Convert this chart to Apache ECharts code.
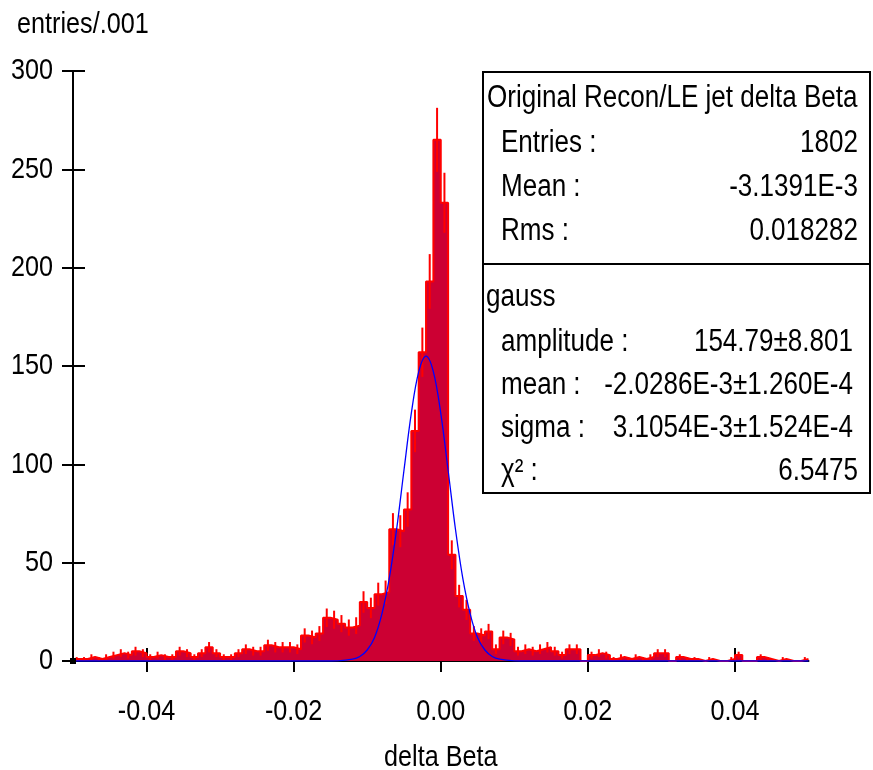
<!DOCTYPE html>
<html>
<head>
<meta charset="utf-8">
<title>delta Beta</title>
<script src="https://cdn.jsdelivr.net/npm/echarts@6/dist/echarts.min.js"></script>
<style>
  html, body { margin: 0; padding: 0; background: #fff; }
  #chart { width: 873px; height: 770px; }
</style>
</head>
<body>
<div id="chart"></div>
<script>
// histogram: 100 bins of .001 from -0.05 to 0.05
var binMin = -0.05
var binWidth = 0.001
var counts = [
  1, 1, 2, 1, 2, 3, 4, 3, 5, 4,
  2, 3, 2, 2, 5, 4, 2, 4, 7, 4,
  2, 2, 4, 6, 5, 5, 8, 7, 7, 7,
  6, 13, 12, 14, 22, 21, 19, 17, 18, 30,
  27, 34, 35, 67, 66, 77, 117, 157, 193, 265,
  233, 54, 33, 26, 14, 13, 15, 6, 12, 11,
  5, 6, 5, 6, 7, 5, 3, 6, 6, 0,
  3, 4, 3, 1, 2, 1, 2, 1, 2, 4,
  4, 0, 2, 1, 1, 0, 1, 0, 0, 1,
  3, 0, 0, 2, 1, 0, 1, 0, 0, 1
]

// gauss fit curve
var fitX = [-0.05, -0.016, -0.014, -0.012, -0.011, -0.010, -0.009, -0.008, -0.007, -0.006,
  -0.005, -0.004, -0.003, -0.002, -0.001, 0, 0.001, 0.002, 0.003, 0.004,
  0.005, 0.006, 0.007, 0.008, 0.010, 0.012, 0.05]
var fitY = [0, 0, 0.1, 0.9, 2.3, 5.6, 12, 24, 42, 67,
  97, 126, 147, 155, 147, 126, 97, 67, 42, 24,
  12, 5.6, 2.3, 0.9, 0.1, 0, 0]

var xTicks = [-0.04, -0.02, 0, 0.02, 0.04]
var yTicks = [0, 50, 100, 150, 200, 250, 300]

var statTitle = 'Original Recon/LE jet delta Beta'
var statLabels = ['Entries :', 'Mean :', 'Rms :']
var statValues = ['1802', '-3.1391E-3', '0.018282']
var fitTitle = 'gauss'
var fitLabels = ['amplitude :', 'mean :', 'sigma :', 'χ² :']
var fitValues = ['154.79±8.801', '-2.0286E-3±1.260E-4', '3.1054E-3±1.524E-4', '6.5475']

// no narrow font installed, so squeeze Liberation Sans
var FONT = "'Liberation Sans', Arial, sans-serif"
var NARROW = 0.84

var chart = echarts.init(document.getElementById('chart'))

function histData () {
  var data = []
  counts.forEach(function (c, i) {
    data.push([binMin + i * binWidth, c])
  })
  data.push([binMin + counts.length * binWidth, counts[counts.length - 1]])
  return data
}

function errData () {
  return counts.map(function (c, i) {
    return [binMin + (i + 0.5) * binWidth, c]
  })
}

function label (s, x, y, align, size) {
  return {
    type: 'text',
    x: x,
    y: y,
    scaleX: NARROW,
    z: 10,
    style: { text: s, fill: '#000', font: (size || 30) + 'px ' + FONT, textAlign: align || 'left', textVerticalAlign: 'middle' }
  }
}

function statsBox () {
  var els = []
  var bx = 483
  var by = 72
  var bw = 387
  var bh = 421
  els.push({ type: 'rect', z: 9, shape: { x: bx, y: by, width: bw, height: bh }, style: { fill: '#fff', stroke: '#000', lineWidth: 2 } })
  els.push({ type: 'line', z: 9, shape: { x1: bx, y1: 264, x2: bx + bw, y2: 264 }, style: { stroke: '#000', lineWidth: 2 } })
  els.push(label(statTitle, 487, 98, 'left', 31))
  statLabels.forEach(function (l, i) {
    els.push(label(l, 501, 143 + i * 44, 'left', 31))
    els.push(label(statValues[i], 858, 143 + i * 44, 'right', 31))
  })
  els.push(label(fitTitle, 486, 297, 'left', 31))
  fitLabels.forEach(function (l, i) {
    els.push(label(l, 501, 342 + i * 43, 'left', 31))
    els.push(label(fitValues[i], i === 3 ? 858 : 853, 342 + i * 43, 'right', 31))
  })
  return els
}

function axisLabels () {
  var els = []
  xTicks.forEach(function (v) {
    var p = chart.convertToPixel({ xAxisIndex: 0, yAxisIndex: 0 }, [v, 0])
    els.push(label(v.toFixed(2), p[0], p[1] + 51, 'center'))
  })
  yTicks.forEach(function (v) {
    var p = chart.convertToPixel({ xAxisIndex: 0, yAxisIndex: 0 }, [binMin, v])
    els.push(label(String(v), p[0] - 20, p[1], 'right'))
  })
  var mid = chart.convertToPixel({ xAxisIndex: 0, yAxisIndex: 0 }, [0, 0])
  els.push(label('delta Beta', mid[0], mid[1] + 97, 'center'))
  els.push(label('entries/.001', 17, 25, 'left'))
  // little block where the two axes meet
  var o = chart.convertToPixel({ xAxisIndex: 0, yAxisIndex: 0 }, [binMin, 0])
  els.push({ type: 'rect', z: 10, shape: { x: o[0] - 3, y: o[1] - 3, width: 6, height: 6 }, style: { fill: '#000' } })
  return els
}

var tickStyle = { color: '#000', width: 2 }

var option = {
  animation: false,
  backgroundColor: '#fff',
  grid: { left: 73, right: 64.5, top: 71, bottom: 109, outerBoundsMode: 'none' },
  xAxis: [
    {
      type: 'value',
      min: -0.05,
      max: 0.05,
      axisLine: { onZero: false, lineStyle: tickStyle },
      axisTick: { customValues: xTicks, length: 11, lineStyle: tickStyle },
      axisLabel: { show: false },
      splitLine: { show: false }
    },
    {
      type: 'value',
      min: -0.05,
      max: 0.05,
      position: 'bottom',
      axisLine: { show: false, onZero: false },
      axisTick: { customValues: xTicks, inside: true, length: 13, lineStyle: tickStyle },
      axisLabel: { show: false },
      splitLine: { show: false }
    }
  ],
  yAxis: [
    {
      type: 'value',
      min: 0,
      max: 300,
      interval: 50,
      axisLine: { show: true, onZero: false, lineStyle: tickStyle },
      axisTick: { show: true, length: 11, lineStyle: tickStyle },
      axisLabel: { show: false },
      splitLine: { show: false }
    },
    {
      type: 'value',
      min: 0,
      max: 300,
      interval: 50,
      position: 'left',
      axisLine: { show: false, onZero: false },
      axisTick: { show: true, inside: true, length: 12, lineStyle: tickStyle },
      axisLabel: { show: false },
      splitLine: { show: false }
    }
  ],
  series: [
    {
      type: 'line',
      step: 'end',
      data: histData(),
      showSymbol: false,
      lineStyle: { color: '#ff0000', width: 2 },
      areaStyle: { color: '#cc0033', opacity: 1 },
      z: 2
    },
    {
      type: 'custom',
      data: errData(),
      renderItem: function (params, api) {
        var v = api.value(1)
        if (!v) return
        var e = Math.sqrt(v)
        var top = api.coord([api.value(0), v + e])
        var bot = api.coord([api.value(0), v - e])
        return {
          type: 'line',
          shape: { x1: top[0], y1: top[1], x2: bot[0], y2: bot[1] },
          style: { stroke: '#ff0000', lineWidth: 2 }
        }
      },
      z: 3
    },
    {
      type: 'line',
      data: fitX.map(function (x, i) { return [x, fitY[i]] }),
      smooth: 0.35,
      showSymbol: false,
      lineStyle: { color: '#0000ff', width: 1.3 },
      z: 4
    }
  ]
}

chart.setOption(option)
chart.setOption({ graphic: axisLabels().concat(statsBox()) })
</script>
</body>
</html>
